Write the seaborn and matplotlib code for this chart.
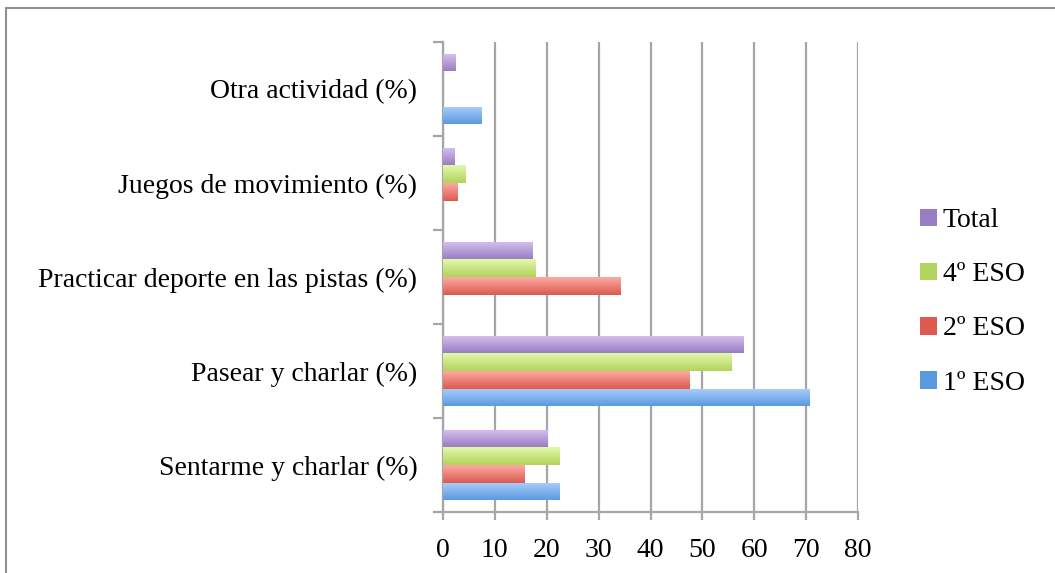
import numpy as np
import pandas as pd
import seaborn as sns
import matplotlib.pyplot as plt
from matplotlib.lines import Line2D
from matplotlib.patches import Patch
from matplotlib.colors import LinearSegmentedColormap, to_hex

# datos
actividades = ['Otra actividad (%)', 'Juegos de movimiento (%)',
               'Practicar deporte en las pistas (%)', 'Pasear y charlar (%)',
               'Sentarme y charlar (%)']
cursos = ['Total', '4º ESO', '2º ESO', '1º ESO']
total = [2.5, 2.3, 17.3, 58.0, 20.2]
eso4 = [0, 4.4, 17.9, 55.6, 22.4]
eso2 = [0, 2.7, 34.2, 47.5, 15.8]
eso1 = [7.5, 0, 0, 70.7, 22.4]
colores = ['#b59fd9', '#cbe58a', '#ef7f77', '#7fb3ee']
# degradado (arriba, abajo) de cada barra
degradados = {'#b59fd9': ('#d6c2ef', '#9a7dc3'),
              '#cbe58a': ('#e3f8aa', '#b2d35c'),
              '#ef7f77': ('#fdaaa2', '#dc5a50'),
              '#7fb3ee': ('#abcefb', '#5a9ae0')}

df = pd.DataFrame({'actividad': actividades, 'Total': total, '4º ESO': eso4,
                   '2º ESO': eso2, '1º ESO': eso1})
df_long = df.melt(id_vars='actividad', var_name='curso', value_name='valor')

sns.set_style('ticks')
plt.rcParams['font.family'] = ['Liberation Serif', 'DejaVu Serif']
plt.rcParams['text.color'] = 'black'
plt.rcParams['xtick.color'] = 'black'
plt.rcParams['ytick.color'] = 'black'

fig = plt.figure(figsize=(10.55, 5.73), dpi=100)
ax = fig.add_axes([443/1055, 1-512/573, 415/1055, 470/573])

sns.barplot(data=df_long, y='actividad', x='valor', hue='curso',
            order=actividades, hue_order=cursos, palette=colores,
            saturation=1, width=0.75, orient='h', ax=ax, legend=False,
            linewidth=0, edgecolor='none', zorder=3)

# degradado vertical dentro de cada barra
grad = np.linspace(0, 1, 64).reshape(-1, 1)
for p in list(ax.patches):
    if p.get_width() <= 0:
        continue
    c = to_hex(p.get_facecolor())
    arriba, abajo = degradados[c]
    cmap = LinearSegmentedColormap.from_list('g', [arriba, abajo])
    x0, y0 = p.get_x(), p.get_y()
    w, h = p.get_width(), p.get_height()
    im = ax.imshow(grad, cmap=cmap, aspect='auto', zorder=3.5,
                   extent=[x0, x0 + w, y0 + h, y0], interpolation='bilinear')
    im.set_clip_path(p)

ax.set_xlim(0, 80)
ax.set_xticks(range(0, 81, 10))
ax.set_ylim(4.5, -0.5)
ax.set_aspect('auto')
ax.set_xlabel('')
ax.set_ylabel('')
ax.grid(axis='x', color='#a6a6a6', linewidth=1.6, zorder=0)
ax.grid(axis='y', visible=False)

for s in ['top', 'right']:
    ax.spines[s].set_visible(False)
for s in ['left', 'bottom']:
    ax.spines[s].set_color('#a6a6a6')
    ax.spines[s].set_linewidth(1.6)

# ticks del eje y entre categorias
ax.set_yticks(np.arange(-0.5, 5, 1), minor=True)
ax.tick_params(axis='y', which='major', left=False, labelsize=20, pad=15)
ax.tick_params(axis='y', which='minor', left=True, length=7, width=1.6,
               color='#a6a6a6')
ax.tick_params(axis='x', bottom=True, length=6, width=1.6, color='#a6a6a6',
               labelcolor='black', labelsize=20, pad=13)

handles = [Patch(facecolor=degradados[c][1], edgecolor='none') for c in colores]
ax.legend(handles, cursos, loc='center left', bbox_to_anchor=(1.09, 0.447),
          frameon=False, fontsize=20, handlelength=0.6, handleheight=0.6,
          handletextpad=0.2, labelspacing=1.05)

# marco exterior
fig.add_artist(Line2D([6/1055, 1], [1-8/573, 1-8/573], color='#909090', linewidth=1.5))
fig.add_artist(Line2D([6/1055, 6/1055], [0, 1-8/573], color='#909090', linewidth=1.5))

fig.savefig('out.png', dpi=100)
